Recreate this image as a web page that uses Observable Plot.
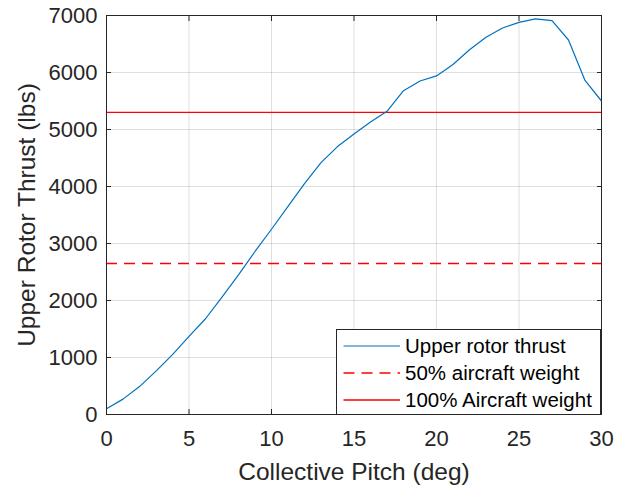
<!DOCTYPE html>
<html><head><meta charset="utf-8">
<script src="https://cdn.jsdelivr.net/npm/d3@7"></script>
<script src="https://cdn.jsdelivr.net/npm/@observablehq/plot@0.6"></script>
<style>
body{margin:0;background:#fff;}
#wrap{position:relative;width:619px;height:488px;font-family:"Liberation Sans",Arial,sans-serif;}
#legend{position:absolute;left:336px;top:329px;width:265px;height:86px;box-sizing:border-box;border:1px solid #262626;background:#fff;}
.row{position:absolute;left:0;height:24px;width:100%;}
.row svg{position:absolute;left:6px;top:0;}
.row span{position:absolute;left:68px;top:0;line-height:24px;font-size:20.5px;color:#000;white-space:nowrap;}
</style></head><body><div id="wrap"></div>
<script>
const pitch = [0,1,2,3,4,5,6,7,8,9,10,11,12,13,14,15,16,17,18,19,20,21,22,23,24,25,26,27,28,29,30];
const thrust = [100,270,490,760,1050,1370,1680,2060,2450,2860,3250,3650,4050,4420,4700,4920,5130,5320,5680,5850,5940,6140,6400,6620,6780,6880,6940,6910,6570,5860,5500];
const halfWeight = 2650;
const fullWeight = 5300;
const xTicks = [0,5,10,15,20,25,30];
const yTicks = [0,1000,2000,3000,4000,5000,6000,7000];
const seriesNames = ["Upper rotor thrust","50% aircraft weight","100% Aircraft weight"];
const seriesColors = ["#0072BD","#FF0000","#FF0000"];
const seriesDash = [null,"11,7",null];

const data = pitch.map((p,i)=>({pitch:p, thrust:thrust[i]}));
const axisColor = "#262626";
const fmt = d3.format("d");

const chart = Plot.plot({
  width: 619, height: 488,
  marginLeft: 106, marginRight: 18, marginTop: 15, marginBottom: 74,
  style: {fontFamily: '"Liberation Sans", Arial, sans-serif', fontSize: "22px", color: axisColor, background: "#fff"},
  x: {domain: [0,30]},
  y: {domain: [0,7000]},
  marks: [
    Plot.gridX(xTicks, {stroke: axisColor, strokeOpacity: 0.15, strokeWidth: 1}),
    Plot.gridY(yTicks, {stroke: axisColor, strokeOpacity: 0.15, strokeWidth: 1}),
    Plot.ruleY([halfWeight], {stroke: seriesColors[1], strokeWidth: 1.5, strokeDasharray: seriesDash[1]}),
    Plot.ruleY([fullWeight], {stroke: seriesColors[2], strokeWidth: 1.3}),
    Plot.line(data, {x: "pitch", y: "thrust", stroke: seriesColors[0], strokeWidth: 1.2}),
    Plot.frame({stroke: axisColor, strokeWidth: 1}),
    // inward ticks
    Plot.axisX(xTicks, {anchor: "bottom", tickSize: 5, dy: -5, tickFormat: () => "", label: null, stroke: axisColor}),
    Plot.axisX(xTicks, {anchor: "top", tickSize: 5, dy: 5, tickFormat: () => "", label: null, stroke: axisColor}),
    Plot.axisY(yTicks, {anchor: "left", tickSize: 5, dx: 5, tickFormat: () => "", label: null, stroke: axisColor}),
    Plot.axisY(yTicks, {anchor: "right", tickSize: 5, dx: -5, tickFormat: () => "", label: null, stroke: axisColor}),
    // labels
    Plot.axisX(xTicks, {anchor: "bottom", tickSize: 0, tickPadding: 16, fontSize: 22, fill: axisColor, tickFormat: fmt,
      label: "Collective Pitch (deg)", labelAnchor: "center", labelArrow: "none", labelOffset: 65}),
    Plot.axisY(yTicks, {anchor: "left", tickSize: 0, tickPadding: 9, fontSize: 22, fill: axisColor, tickFormat: fmt,
      label: "Upper Rotor Thrust (lbs)", labelAnchor: "center", labelArrow: "none", labelOffset: 89})
  ]
});
chart.querySelectorAll("[aria-label='x-axis label'], [aria-label='y-axis label']").forEach(n=>{n.style.fontSize="24.5px";});
const wrap = document.getElementById("wrap");
wrap.appendChild(chart);

const legend = document.createElement("div");
legend.id = "legend";
const rowTops = [4, 30.7, 58.3];
seriesNames.forEach((name,i)=>{
  const row = document.createElement("div");
  row.className = "row";
  row.style.top = rowTops[i] + "px";
  const ns = "http://www.w3.org/2000/svg";
  const svg = document.createElementNS(ns,"svg");
  svg.setAttribute("width","58"); svg.setAttribute("height","24");
  const ln = document.createElementNS(ns,"line");
  ln.setAttribute("x1","0.5"); ln.setAttribute("x2","57"); ln.setAttribute("y1","12"); ln.setAttribute("y2","12");
  ln.setAttribute("stroke", seriesColors[i]); ln.setAttribute("stroke-width", i===0?"1.2":"1.3");
  if (seriesDash[i]) ln.setAttribute("stroke-dasharray", seriesDash[i]);
  svg.appendChild(ln);
  const sp = document.createElement("span");
  sp.textContent = name;
  row.appendChild(svg); row.appendChild(sp);
  legend.appendChild(row);
});
wrap.appendChild(legend);
</script></body></html>
